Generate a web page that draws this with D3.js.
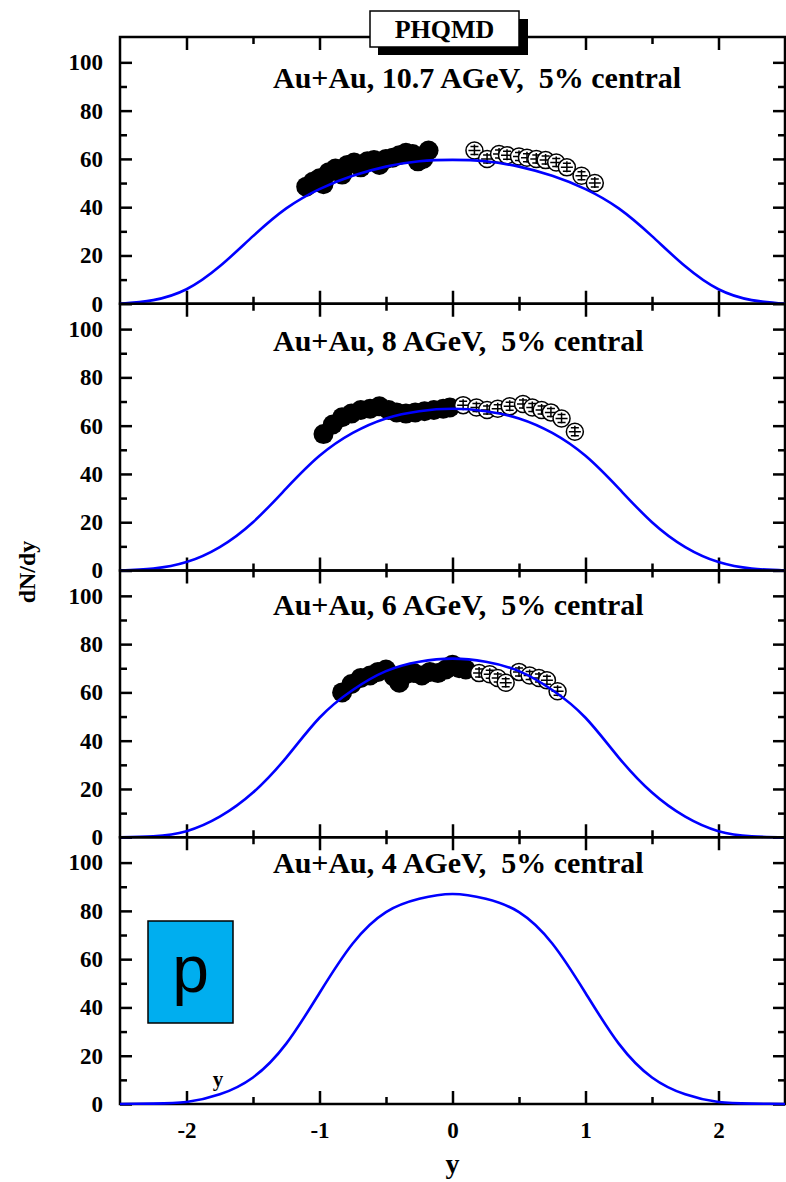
<!DOCTYPE html>
<html>
<head>
<meta charset="utf-8">
<script src="https://cdn.jsdelivr.net/npm/d3@7"></script>
<style>
  body { margin: 0; background: #fff; }
  svg { display: block; }
  text { font-family: "Liberation Serif", "Times New Roman", serif; font-weight: bold; fill: #000; }
</style>
</head>
<body>
<svg id="chart" width="786" height="1182"></svg>
<script>
// ---- data -------------------------------------------------------------
// PHQMD rapidity distributions of protons (model curves)
const rapidity = [-2.5, -2.25, -2, -1.75, -1.5, -1.25, -1, -0.75, -0.5, -0.25, 0,
                  0.25, 0.5, 0.75, 1, 1.25, 1.5, 1.75, 2, 2.25, 2.5];
const model107 = [0, 1.5, 6, 15.5, 28, 39.5, 47.5, 53, 56.8, 59, 59.6,
                  59, 56.8, 53, 47.5, 39.5, 28, 15.5, 6, 1.5, 0];
const model8   = [0, 0.8, 3.5, 9.7, 20, 34, 47.5, 57, 63, 66, 67,
                  66, 63, 57, 47.5, 34, 20, 9.7, 3.5, 0.8, 0];
const model6   = [0, 0.4, 2.5, 8.5, 18.5, 33, 49.5, 61, 68.8, 72.7, 74,
                  72.7, 68.8, 61, 49.5, 33, 18.5, 8.5, 2.5, 0.4, 0];
const model4   = [0, 0.15, 0.8, 4, 11, 25, 46, 66.5, 79.5, 85, 87,
                  85, 79.5, 66.5, 46, 25, 11, 4, 0.8, 0.15, 0];

// measured points (filled) and their reflection about midrapidity (open)
const meas107Y = [-1.1, -1.05, -1.0, -0.97, -0.93, -0.88, -0.83, -0.79, -0.74, -0.69, -0.64,
                  -0.59, -0.55, -0.5, -0.45, -0.4, -0.35, -0.3, -0.26, -0.22, -0.18];
const meas107N = [48.5, 50.5, 52, 49.5, 54.5, 56, 53.5, 57.5, 58.5, 56.5, 59,
                  59.5, 57.5, 60, 60.5, 61.5, 62.5, 62, 59, 60, 63.5];
const refl107Y = [0.165, 0.26, 0.35, 0.41, 0.5, 0.56, 0.63, 0.7, 0.78, 0.86, 0.97, 1.07];
const refl107N = [63.5, 60, 62, 61.5, 61, 60.5, 60, 59.5, 58.5, 56.5, 53, 50];

const meas8Y = [-0.97, -0.9, -0.83, -0.76, -0.69, -0.62, -0.55, -0.48, -0.42, -0.35,
                -0.28, -0.21, -0.14, -0.07, -0.02];
const meas8N = [56.5, 60.5, 63.5, 65, 66.5, 67, 68, 66.5, 65.5, 65, 65.5, 66, 66.5, 67, 67.5];
const refl8Y = [0.08, 0.18, 0.26, 0.34, 0.43, 0.53, 0.6, 0.67, 0.74, 0.82, 0.92];
const refl8N = [68.5, 67.5, 66.5, 67, 68, 69, 67.5, 66.5, 65.5, 63, 57.5];

const meas6Y = [-0.83, -0.76, -0.69, -0.62, -0.56, -0.5, -0.44, -0.4, -0.35, -0.29, -0.23,
                -0.17, -0.11, -0.05, 0.0, 0.05, 0.1];
const meas6N = [60, 63.5, 66, 67, 68.5, 69.5, 66.5, 64, 67.5, 68, 67, 68.5, 68, 69.5, 71.5, 70, 69.5];
const refl6Y = [0.2, 0.28, 0.34, 0.4, 0.5, 0.58, 0.65, 0.71, 0.79];
const refl6N = [68, 67.5, 66, 64, 68.5, 67, 66, 65, 60.5];

const panelTitles = ["Au+Au, 10.7 AGeV,  5% central", "Au+Au, 8 AGeV,  5% central",
                     "Au+Au, 6 AGeV,  5% central", "Au+Au, 4 AGeV,  5% central"];
const yTicks = [0, 20, 40, 60, 80, 100];
const yMinor = [10, 30, 50, 70, 90];
const xTicks = [-2, -1, 0, 1, 2];
const xMinor = [-1.5, -0.5, 0.5, 1.5];

// ---- layout -------------------------------------------------------------
const svg = d3.select("#chart");
const plotLeft = 120, plotRight = 785, plotTop = 37, panelH = 266.75;
const titleBaseline = [88, 351, 615, 873];

const x = d3.scaleLinear().domain([-2.5, 2.5]).range([plotLeft, plotRight]);

const panels = [
  { model: model107, measY: meas107Y, measN: meas107N, reflY: refl107Y, reflN: refl107N },
  { model: model8,   measY: meas8Y,   measN: meas8N,   reflY: refl8Y,   reflN: refl8N },
  { model: model6,   measY: meas6Y,   measN: meas6N,   reflY: refl6Y,   reflN: refl6N },
  { model: model4,   measY: [],       measN: [],       reflY: [],       reflN: [] }
];

panels.forEach((p, i) => {
  const top = plotTop + i * panelH, bottom = top + panelH;
  const y = d3.scaleLinear().domain([0, 110.5]).range([bottom, top]);
  const g = svg.append("g");

  // frame
  g.append("rect").attr("x", plotLeft).attr("y", top)
    .attr("width", plotRight - plotLeft).attr("height", panelH)
    .attr("fill", "none").attr("stroke", "#000").attr("stroke-width", 2.5);

  const styleAxis = sel => {
    sel.select(".domain").remove();
    sel.selectAll(".tick line").attr("stroke", "#000").attr("stroke-width", 2.5);
  };

  // left axis with labels
  g.append("g").attr("transform", `translate(${plotLeft},0)`)
    .call(d3.axisLeft(y).tickValues(yTicks).tickSizeInner(-12).tickSizeOuter(0).tickPadding(17))
    .call(styleAxis)
    .call(s => s.selectAll("text").attr("font-size", 23).attr("font-family", null));
  g.append("g").attr("transform", `translate(${plotLeft},0)`)
    .call(d3.axisLeft(y).tickValues(yMinor).tickSizeInner(-7).tickSizeOuter(0).tickFormat(""))
    .call(styleAxis);
  // right axis
  g.append("g").attr("transform", `translate(${plotRight},0)`)
    .call(d3.axisRight(y).tickValues(yTicks).tickSizeInner(-12).tickSizeOuter(0).tickFormat(""))
    .call(styleAxis);
  g.append("g").attr("transform", `translate(${plotRight},0)`)
    .call(d3.axisRight(y).tickValues(yMinor).tickSizeInner(-7).tickSizeOuter(0).tickFormat(""))
    .call(styleAxis);
  // top axis
  g.append("g").attr("transform", `translate(0,${top})`)
    .call(d3.axisTop(x).tickValues(xTicks).tickSizeInner(-13).tickSizeOuter(0).tickFormat(""))
    .call(styleAxis);
  g.append("g").attr("transform", `translate(0,${top})`)
    .call(d3.axisTop(x).tickValues(xMinor).tickSizeInner(-7).tickSizeOuter(0).tickFormat(""))
    .call(styleAxis);
  // bottom axis (labels only on the last panel)
  const bottomAxis = d3.axisBottom(x).tickValues(xTicks).tickSizeInner(-13).tickSizeOuter(0).tickPadding(18);
  if (i < panels.length - 1) bottomAxis.tickFormat("");
  else bottomAxis.tickFormat(d => d === 0 ? "0" : d < 0 ? "-" + Math.abs(d) : String(d));
  g.append("g").attr("transform", `translate(0,${bottom})`)
    .call(bottomAxis)
    .call(styleAxis)
    .call(s => s.selectAll("text").attr("font-size", 23).attr("font-family", null));
  g.append("g").attr("transform", `translate(0,${bottom})`)
    .call(d3.axisBottom(x).tickValues(xMinor).tickSizeInner(-7).tickSizeOuter(0).tickFormat(""))
    .call(styleAxis);

  // panel title
  g.append("text").attr("x", 273).attr("y", titleBaseline[i])
    .attr("font-size", 30).style("white-space", "pre")
    .text(panelTitles[i]);

  // measured points (filled circles)
  const meas = p.measY.map((v, k) => [v, p.measN[k]]);
  g.append("g").selectAll("circle").data(meas).join("circle")
    .attr("cx", d => x(d[0])).attr("cy", d => y(d[1])).attr("r", 10)
    .attr("fill", "#000");

  // reflected points (open circles with error bars)
  const refl = p.reflY.map((v, k) => [v, p.reflN[k]]);
  const og = g.append("g").selectAll("g").data(refl).join("g")
    .attr("transform", d => `translate(${x(d[0])},${y(d[1])})`);
  og.append("circle").attr("r", 8.5).attr("fill", "#fff").attr("stroke", "#000").attr("stroke-width", 1.5);
  og.append("path")
    .attr("d", "M0,-6V5 M-4,-4H4 M-6,0H6 M-4,4H4")
    .attr("stroke", "#000").attr("stroke-width", 1.5).attr("fill", "none");

  // model curve
  const line = d3.line().x(d => x(d[0])).y(d => y(d[1])).curve(d3.curveNatural);
  g.append("path").datum(rapidity.map((r, k) => [r, p.model[k]]))
    .attr("d", line).attr("fill", "none")
    .attr("stroke", "#0000ff").attr("stroke-width", 2.6);
});

// model label box with drop shadow
svg.append("rect").attr("x", 378).attr("y", 19).attr("width", 150).attr("height", 36).attr("fill", "#000");
svg.append("rect").attr("x", 370).attr("y", 11).attr("width", 149).attr("height", 36)
  .attr("fill", "#fff").attr("stroke", "#000").attr("stroke-width", 1.5);
svg.append("text").attr("x", 444.5).attr("y", 38).attr("text-anchor", "middle")
  .attr("font-size", 26).text("PHQMD");

// particle badge
svg.append("rect").attr("x", 148).attr("y", 921).attr("width", 85).attr("height", 102)
  .attr("fill", "#00aeef").attr("stroke", "#000").attr("stroke-width", 1.5);
svg.append("text").attr("x", 190.5).attr("y", 992).attr("text-anchor", "middle")
  .style("font-family", "'Liberation Sans', Arial, sans-serif").style("font-weight", "normal")
  .attr("font-size", 66).text("p");

// small rapidity mark in lowest panel
svg.append("text").attr("x", 218).attr("y", 1086).attr("text-anchor", "middle")
  .attr("font-size", 21).text("y");

// axis titles
svg.append("text").attr("x", x(0)).attr("y", 1173).attr("text-anchor", "middle")
  .attr("font-size", 28).text("y");
svg.append("text").attr("transform", "translate(35,572) rotate(-90)").attr("text-anchor", "middle")
  .attr("font-size", 24).text("dN/dy");
</script>
</body>
</html>
